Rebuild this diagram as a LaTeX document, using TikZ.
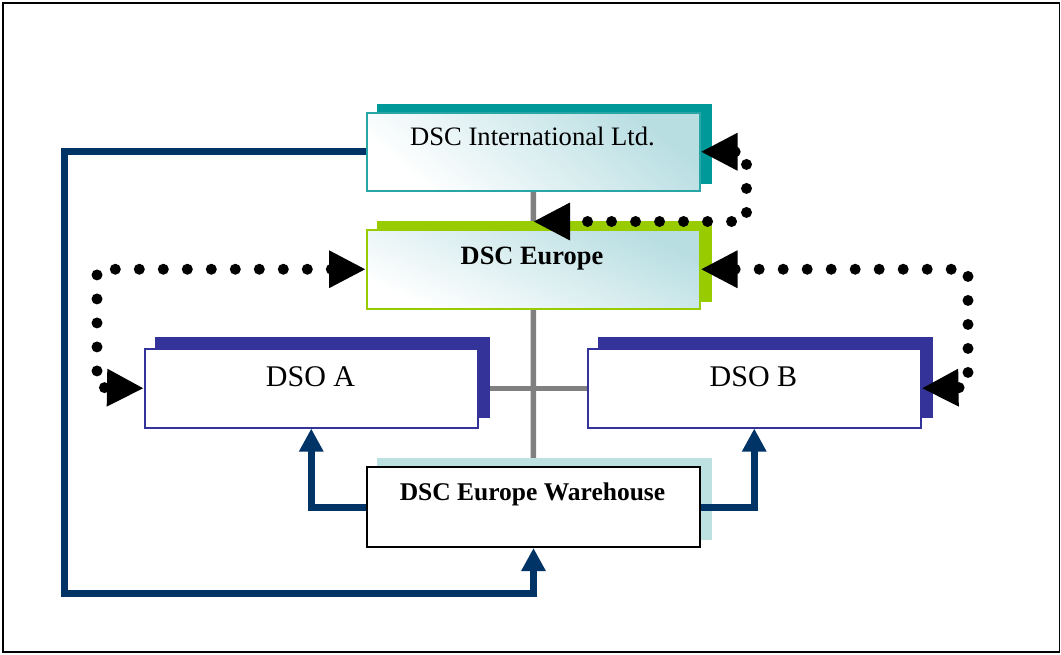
\documentclass[tikz,border=0pt]{standalone}
\usepackage{fontspec}
\setmainfont{Liberation Serif}
\usetikzlibrary{arrows.meta}
\definecolor{tealsh}{RGB}{0,153,153}
\definecolor{tealbd}{RGB}{40,165,165}
\definecolor{limeg}{RGB}{153,204,0}
\definecolor{dsoblue}{RGB}{51,51,153}
\definecolor{whsh}{RGB}{189,224,224}
\definecolor{navyc}{RGB}{0,51,102}
\definecolor{grayc}{RGB}{128,128,128}
\definecolor{gradt}{RGB}{184,222,226}
\pgfdeclarelayer{lines}
\pgfdeclarelayer{shad}
\pgfsetlayers{lines,shad,main}
\begin{document}
\begin{tikzpicture}[x=1pt,y=-1pt,
  box/.style={rectangle, minimum width=333pt, anchor=north west, inner sep=0pt, line width=1.5pt},
  txt/.style={anchor=base, inner sep=0pt},
  graylink/.style={draw=grayc, line width=5.5pt},
  navylink/.style={draw=navyc, line width=7pt, -{Triangle[length=23pt,width=23pt]}},
  dotlink/.style={line width=11pt, line cap=round, dash pattern=on 0pt off 24pt,
     {Triangle[length=37pt,width=35pt]}-{Triangle[length=37pt,width=35pt]}}
]
\useasboundingbox (0,0) rectangle (1061,654);
\draw[line width=1.8pt] (3,3) rectangle (1059.5,652);

% boxes
\node[box, draw=tealbd, minimum height=78pt, top color=gradt, bottom color=white, shading angle=-40] (intl) at (366,112) {};
\node[box, draw=limeg, minimum height=79pt, top color=gradt, bottom color=white, shading angle=-25] (euro) at (366,229) {};
\node[box, draw=dsoblue, fill=white, minimum height=79pt] (dsoA) at (144,348) {};
\node[box, draw=dsoblue, fill=white, minimum height=79pt] (dsoB) at (587,348) {};
\node[box, draw=black, line width=2pt, fill=white, minimum height=80pt] (wh) at (366,466) {};

% shadows
\begin{pgfonlayer}{shad}
\fill[tealsh] ([shift={(11,-8)}]intl.north west) rectangle ([shift={(11,-8)}]intl.south east);
\fill[limeg] ([shift={(11,-8)}]euro.north west) rectangle ([shift={(11,-8)}]euro.south east);
\fill[dsoblue] ([shift={(11,-11)}]dsoA.north west) rectangle ([shift={(11,-11)}]dsoA.south east);
\fill[dsoblue] ([shift={(11,-11)}]dsoB.north west) rectangle ([shift={(11,-11)}]dsoB.south east);
\fill[whsh] ([shift={(11,-8)}]wh.north west) rectangle ([shift={(11,-8)}]wh.south east);
\end{pgfonlayer}

% gray structure lines
\begin{pgfonlayer}{lines}
\draw[graylink] (intl.south) -- (wh.north);
\draw[graylink] (dsoA.east) -- (dsoB.west);
\end{pgfonlayer}

% labels
\node[txt, font=\fontsize{26.6}{30}\selectfont] (tintl) at (532.5,145) {DSC International Ltd.};
\node[txt, font=\fontsize{26.4}{30}\selectfont\bfseries] (teuro) at (532,264) {DSC Europe};
\node[txt, font=\fontsize{30}{34}\selectfont] (tdsoA) at (310.5,386.5) {DSO A};
\node[txt, font=\fontsize{30}{34}\selectfont] (tdsoB) at (753.5,386.5) {DSO B};
\node[txt, font=\fontsize{25.5}{30}\selectfont\bfseries] (twh) at (532.5,500) {DSC Europe Warehouse};

% navy supply arrows
\coordinate (n1) at (64.7,593);
\draw[navylink] (intl.west) -| (n1) -| (wh.south);
\draw[navylink] (wh.west) -| (dsoA.south);
\draw[navylink] (wh.east) -| (dsoB.south);

% dotted information arrows
\coordinate (ca) at (746.5,221.5);
\coordinate (ea) at (533,221.5);
\coordinate (cb) at (97,387.5);
\coordinate (cc) at (968,387.5);
\draw[dotlink] (intl.east) -| (ca) -- (ea);
\draw[dotlink] (euro.west) -| (cb) -- (dsoA.west);
\draw[dotlink] (euro.east) -| (cc) -- (dsoB.east);
\end{tikzpicture}
\end{document}
